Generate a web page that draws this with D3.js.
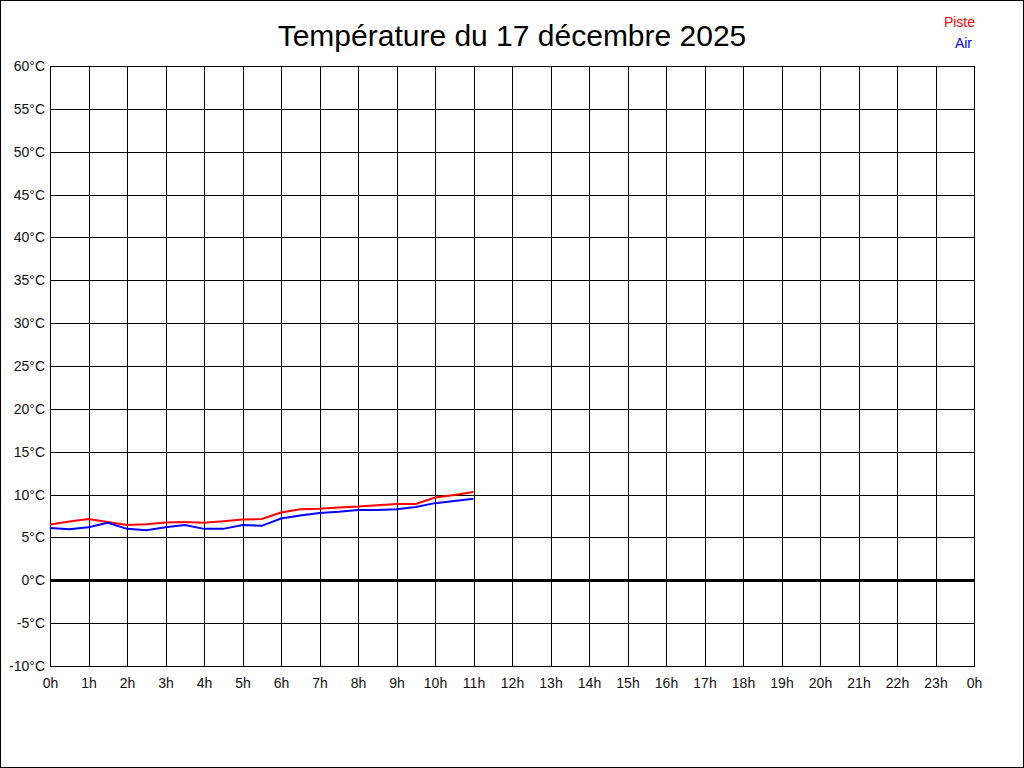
<!DOCTYPE html>
<html>
<head>
<meta charset="utf-8">
<script src="https://cdn.jsdelivr.net/npm/d3@7"></script>
<style>
    body { margin: 0; background: #fff; }
    svg { display: block; font-family: "Liberation Sans", Arial, sans-serif; }
</style>
</head>
<body>
<div id="chart"></div>
<script>
// heures (mesures toutes les 30 minutes)
const hours = [0, 0.5, 1, 1.5, 2, 2.5, 3, 3.5, 4, 4.5, 5, 5.5, 6, 6.5, 7, 7.5, 8, 8.5, 9, 9.5, 10, 10.5, 11];
const piste = [6.5, 6.85, 7.15, 6.8, 6.45, 6.55, 6.75, 6.8, 6.7, 6.9, 7.1, 7.15, 7.9, 8.3, 8.35, 8.5, 8.6, 8.75, 8.9, 8.9, 9.65, 9.95, 10.3];
const air = [6.1, 5.95, 6.2, 6.7, 6.0, 5.85, 6.2, 6.45, 6.0, 6.0, 6.45, 6.35, 7.2, 7.55, 7.85, 8.0, 8.2, 8.2, 8.3, 8.55, 9.0, 9.25, 9.5];
const xTicks = d3.range(0, 25, 1);
const yTicks = d3.range(-10, 61, 5);

const width = 1024, height = 768;
const margin = { top: 66, right: 50, bottom: 102, left: 50 };

const svg = d3.select("#chart").append("svg")
    .attr("width", width)
    .attr("height", height);

svg.append("rect")
    .attr("x", 0.5).attr("y", 0.5)
    .attr("width", width - 1).attr("height", height - 1)
    .attr("fill", "#fff").attr("stroke", "#000");

const x = d3.scaleLinear().domain([0, 24]).range([margin.left, width - margin.right]);
const y = d3.scaleLinear().domain([-10, 60]).range([height - margin.bottom, margin.top]);

const innerW = x.range()[1] - x.range()[0];
const innerH = y.range()[0] - y.range()[1];

// grille + axes
svg.append("g")
    .attr("transform", `translate(0,${y(-10)})`)
    .call(d3.axisBottom(x).tickValues(xTicks).tickSizeInner(-innerH).tickSizeOuter(0).tickPadding(12)
        .tickFormat(d => (d % 24) + "h"))
    .call(g => g.select(".domain").remove())
    .call(g => g.selectAll(".tick line").attr("stroke", "#000").attr("shape-rendering", "crispEdges"))
    .call(g => g.selectAll(".tick text").attr("fill", "#111").style("font-size", "14px"));

svg.append("g")
    .attr("transform", `translate(${x(0)},0)`)
    .call(d3.axisLeft(y).tickValues(yTicks).tickSizeInner(-innerW).tickSizeOuter(0).tickPadding(5)
        .tickFormat(d => d + "°C"))
    .call(g => g.select(".domain").remove())
    .call(g => g.selectAll(".tick line").attr("stroke", "#000").attr("shape-rendering", "crispEdges"))
    .call(g => g.selectAll(".tick text").attr("fill", "#111").style("font-size", "14px"));

// cadre
svg.append("rect")
    .attr("x", x(0)).attr("y", y(60))
    .attr("width", innerW).attr("height", innerH)
    .attr("fill", "none").attr("stroke", "#000")
    .attr("shape-rendering", "crispEdges");

// ligne du zéro
svg.append("line")
    .attr("x1", x(0)).attr("x2", x(24))
    .attr("y1", y(0)).attr("y2", y(0))
    .attr("stroke", "#000").attr("stroke-width", 3)
    .attr("shape-rendering", "crispEdges");

const line = d3.line().x((d, i) => x(hours[i])).y(d => y(d));

svg.append("path")
    .datum(piste)
    .attr("d", line)
    .attr("fill", "none").attr("stroke", "#ff0000").attr("stroke-width", 2);

svg.append("path")
    .datum(air)
    .attr("d", line)
    .attr("fill", "none").attr("stroke", "#0000ff").attr("stroke-width", 2);

// titre
svg.append("text")
    .attr("x", width / 2).attr("y", 46)
    .attr("text-anchor", "middle")
    .style("font-size", "30px")
    .attr("fill", "#000")
    .text("Température du 17 décembre 2025");

// légende
svg.append("text")
    .attr("x", 975).attr("y", 27)
    .attr("text-anchor", "end")
    .style("font-size", "14px")
    .attr("fill", "#ff0000")
    .text("Piste");

svg.append("text")
    .attr("x", 972).attr("y", 48)
    .attr("text-anchor", "end")
    .style("font-size", "14px")
    .attr("fill", "#0000ff")
    .text("Air");
</script>
</body>
</html>
